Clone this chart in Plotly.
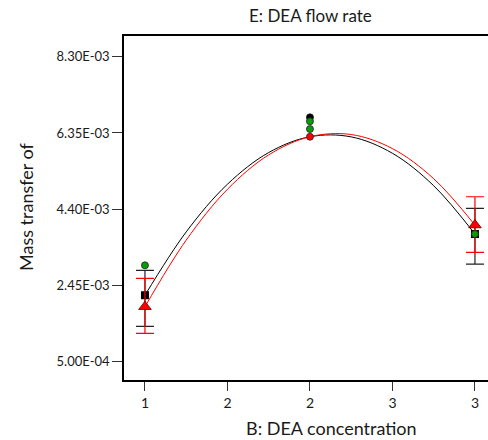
import plotly.graph_objects as go

# ---- data ----
x_ticks = [1, 1.5, 2, 2.5, 3]
x_ticktext = ["1", "2", "2", "3", "3"]
y_ticks = [0.0005, 0.00245, 0.0044, 0.00635, 0.0083]
y_ticktext = ["5.00E-04", "2.45E-03", "4.40E-03", "6.35E-03", "8.30E-03"]

curve_x = [1, 1.25, 1.5, 1.75, 2, 2.25, 2.5, 2.75, 3]
black_curve = [2.20e-3, 3.82e-3, 5.04e-3, 5.85e-3, 6.254e-3, 6.25e-3, 5.83e-3, 5.00e-3, 3.765e-3]
red_curve = [1.906e-3, 3.61e-3, 4.91e-3, 5.79e-3, 6.254e-3, 6.31e-3, 5.95e-3, 5.18e-3, 3.995e-3]

black_x = [1, 3]
black_y = [2.20e-3, 3.765e-3]
black_bar_top = [2.837e-3, 4.423e-3]
black_bar_bottom = [1.405e-3, 2.998e-3]

red_x = [1, 3]
red_y = [1.906e-3, 3.995e-3]
red_bar_top = [2.632e-3, 4.719e-3]
red_bar_bottom = [1.226e-3, 3.297e-3]

green_x = [1, 2, 2, 3]
green_y = [2.965e-3, 6.648e-3, 6.451e-3, 3.765e-3]
blackdot_x = [2]
blackdot_y = [6.75e-3]
reddot_x = [2]
reddot_y = [6.254e-3]

FONT = "Lato"
TXT = "#1a1a1a"

fig = go.Figure()
fig.add_trace(go.Scatter(x=curve_x, y=black_curve, mode="lines", line=dict(color="black", width=1, shape="spline")))
fig.add_trace(go.Scatter(x=curve_x, y=red_curve, mode="lines", line=dict(color="red", width=1, shape="spline")))

fig.add_trace(go.Scatter(
    x=black_x, y=black_y, mode="markers",
    marker=dict(symbol="square", size=8, color="black"),
    error_y=dict(type="data", symmetric=False,
                 array=[t - v for t, v in zip(black_bar_top, black_y)],
                 arrayminus=[v - b for b, v in zip(black_bar_bottom, black_y)],
                 color="#222", thickness=1.2, width=9)))
fig.add_trace(go.Scatter(
    x=red_x, y=red_y, mode="markers",
    marker=dict(symbol="triangle-up", size=11, color="red", line=dict(color="#600", width=0.8)),
    error_y=dict(type="data", symmetric=False,
                 array=[t - v for t, v in zip(red_bar_top, red_y)],
                 arrayminus=[v - b for b, v in zip(red_bar_bottom, red_y)],
                 color="red", thickness=1.2, width=9)))
fig.add_trace(go.Scatter(x=blackdot_x, y=blackdot_y, mode="markers",
                         marker=dict(size=7, color="black", line=dict(color="#111", width=0.8))))
fig.add_trace(go.Scatter(x=green_x, y=green_y, mode="markers",
                         marker=dict(size=7, color="#0a9a0a", line=dict(color="#222", width=0.8))))
fig.add_trace(go.Scatter(x=reddot_x, y=reddot_y, mode="markers",
                         marker=dict(size=7, color="red", line=dict(color="#222", width=0.8))))

fig.update_layout(
    width=488, height=440,
    margin=dict(l=124, r=0, t=36, b=60),
    paper_bgcolor="white", plot_bgcolor="white",
    showlegend=False,
    font=dict(family=FONT, color=TXT, size=13),
    xaxis=dict(range=[0.873, 3.079], tickvals=x_ticks, ticktext=x_ticktext,
               showline=True, linecolor="black", linewidth=1.5, mirror=True,
               ticks="outside", ticklen=9, tickcolor="#333", tickwidth=1.2,
               showgrid=False, zeroline=False, tickfont=dict(size=14)),
    yaxis=dict(range=[0.032e-3, 8.83e-3], tickvals=y_ticks, ticktext=y_ticktext,
               showline=True, linecolor="black", linewidth=1.5,
               ticks="outside", ticklen=10, tickcolor="#333", tickwidth=1.2,
               showgrid=False, zeroline=False, tickfont=dict(size=13)),
    annotations=[
        dict(text="E: DEA flow rate", x=310, y=15, showarrow=False,
             font=dict(size=17, family=FONT, color=TXT)),
        dict(text="B: DEA concentration", x=331, y=428, showarrow=False,
             font=dict(size=18, family=FONT, color=TXT)),
        dict(text="Mass transfer of", x=26, y=207, showarrow=False, textangle=-90,
             font=dict(size=18, family=FONT, color=TXT)),
    ],
)

# position annotations in pixel terms -> paper coords
W, H = 488, 440
l, r, t, b = 124, 0, 36, 60
pw, ph = W - l - r, H - t - b
new_ann = []
for a in fig.layout.annotations:
    px, py = a.x, a.y
    a.update(xref="paper", yref="paper",
             x=(px - l) / pw, y=1 - (py - t) / ph,
             xanchor="center", yanchor="middle")
    new_ann.append(a)
fig.layout.annotations = new_ann

fig.write_html("out.html")
